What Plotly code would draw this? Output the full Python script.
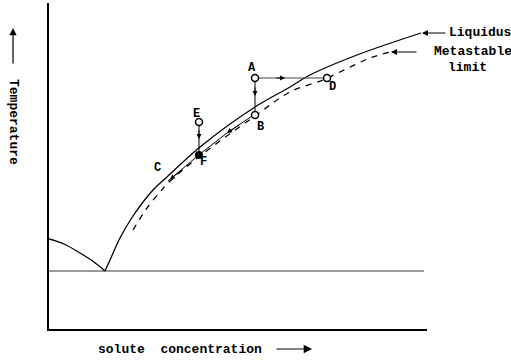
import plotly.graph_objects as go

# Data (arbitrary concentration / temperature units)
liq_x = [56, 61, 71, 84, 104, 118, 151, 206, 241, 261, 308, 372]
liq_y = [58, 69, 91, 113, 139, 152, 182, 222, 242, 254, 274, 296]

left_x = [0, 15, 31, 45, 56]
left_y = [90, 85, 76, 67, 58]

meta_x = [84, 98, 111, 119, 151, 206, 241, 274, 291, 321, 341]
meta_y = [99, 121, 137, 146, 173, 213, 237, 249, 257, 271, 277]

eut_x = [0, 375]
eut_y = [58, 58]

path_bc_x = [206, 178, 151, 119]
path_bc_y = [215, 196, 175, 148]

pt_names = ["A", "B", "D", "E"]
pt_x = [206, 206, 278, 150]
pt_y = [251, 214, 251, 207]
f_x, f_y = 150, 174

lbl_names = ["A", "B", "C", "D", "E", "F"]
lbl_x = [203, 211, 108, 283, 147, 154]
lbl_y = [261, 202, 161, 242, 215, 167]

FONT = "Liberation Mono"

fig = go.Figure()
fig.add_trace(go.Scatter(x=eut_x, y=eut_y, mode="lines", line=dict(color="#777", width=1.6), hoverinfo="skip"))
fig.add_trace(go.Scatter(x=left_x, y=left_y, mode="lines", line=dict(color="black", width=1.3, shape="spline"), hoverinfo="skip"))
fig.add_trace(go.Scatter(x=liq_x, y=liq_y, mode="lines", line=dict(color="black", width=1.3, shape="spline"), hoverinfo="skip"))
fig.add_trace(go.Scatter(x=meta_x, y=meta_y, mode="lines", line=dict(color="black", width=1.3, shape="spline", dash="6px,6px"), hoverinfo="skip"))
# process paths
fig.add_trace(go.Scatter(x=[pt_x[0], pt_x[2]], y=[pt_y[0], pt_y[2]], mode="lines", line=dict(color="#444", width=1), hoverinfo="skip"))
fig.add_trace(go.Scatter(x=[pt_x[0], pt_x[1]], y=[pt_y[0], pt_y[1]], mode="lines", line=dict(color="black", width=1), hoverinfo="skip"))
fig.add_trace(go.Scatter(x=[pt_x[3], f_x], y=[pt_y[3], f_y], mode="lines", line=dict(color="black", width=1), hoverinfo="skip"))
fig.add_trace(go.Scatter(x=path_bc_x, y=path_bc_y, mode="lines", line=dict(color="black", width=1), hoverinfo="skip"))
fig.add_trace(go.Scatter(x=pt_x, y=pt_y, mode="markers",
                         marker=dict(size=7, color="white", line=dict(color="black", width=1.5)), hoverinfo="skip"))
fig.add_trace(go.Scatter(x=[f_x], y=[f_y], mode="markers",
                         marker=dict(size=8, color="black"), hoverinfo="skip"))

for n, x, y in zip(lbl_names, lbl_x, lbl_y):
    fig.add_annotation(x=x, y=y, text="<b>" + n + "</b>", showarrow=False,
                       font=dict(family=FONT, size=12, color="black"))

def arrow(x, y, ax, ay, size=1.0):
    fig.add_annotation(x=x, y=y, ax=ax, ay=ay, xref="x", yref="y", axref="x", ayref="y",
                       text="", showarrow=True, arrowhead=2, arrowsize=size, arrowwidth=1, arrowcolor="black")

def parrow(x, y, ax, ay, size=1.2):
    fig.add_annotation(x=x, y=y, ax=ax, ay=ay, xref="paper", yref="paper", axref="pixel", ayref="pixel",
                       text="", showarrow=True, arrowhead=2, arrowsize=size, arrowwidth=1.2, arrowcolor="black")

def ptext(x, y, t, xanchor="center", angle=0, size=13):
    fig.add_annotation(x=x, y=y, xref="paper", yref="paper", text="<b>" + t + "</b>", showarrow=False,
                       xanchor=xanchor, yanchor="middle", textangle=angle,
                       font=dict(family=FONT, size=size, color="black"))

# arrowheads on process paths
arrow(236, 251, 226, 251)
arrow(206, 233, 206, 243)
arrow(150, 190, 150, 200)
arrow(178, 196, 192, 205.5)
arrow(121, 149.5, 135, 161)
# label arrows
arrow(373, 296, 398, 296, 1.2)
arrow(342, 277, 369, 277, 1.2)
# axis arrows
parrow(-0.0952, 0.923, 0, 37)
parrow(0.696, -0.0613, -37, 0, 1.4)

ptext(1.053, 0.908, "Liquidus", xanchor="left")
ptext(1.013, 0.850, "Metastable", xanchor="left")
ptext(1.108, 0.801, "limit")
ptext(-0.0952, 0.635, "Temperature", angle=90, size=13)
ptext(0.347, -0.0644, "solute  concentration")

fig.update_xaxes(range=[0, 378], showline=True, linecolor="black", linewidth=2, mirror=False,
                 showgrid=False, zeroline=False, showticklabels=False, ticks="")
fig.update_yaxes(range=[0, 326], showline=True, linecolor="black", linewidth=2, mirror=False,
                 showgrid=False, zeroline=False, showticklabels=False, ticks="")
fig.update_layout(width=511, height=361, margin=dict(l=49, r=84, t=3, b=32),
                  showlegend=False, plot_bgcolor="white", paper_bgcolor="white")

fig.write_html("out.html", config={"displayModeBar": False},
               post_script="document.body.style.margin='0';")
